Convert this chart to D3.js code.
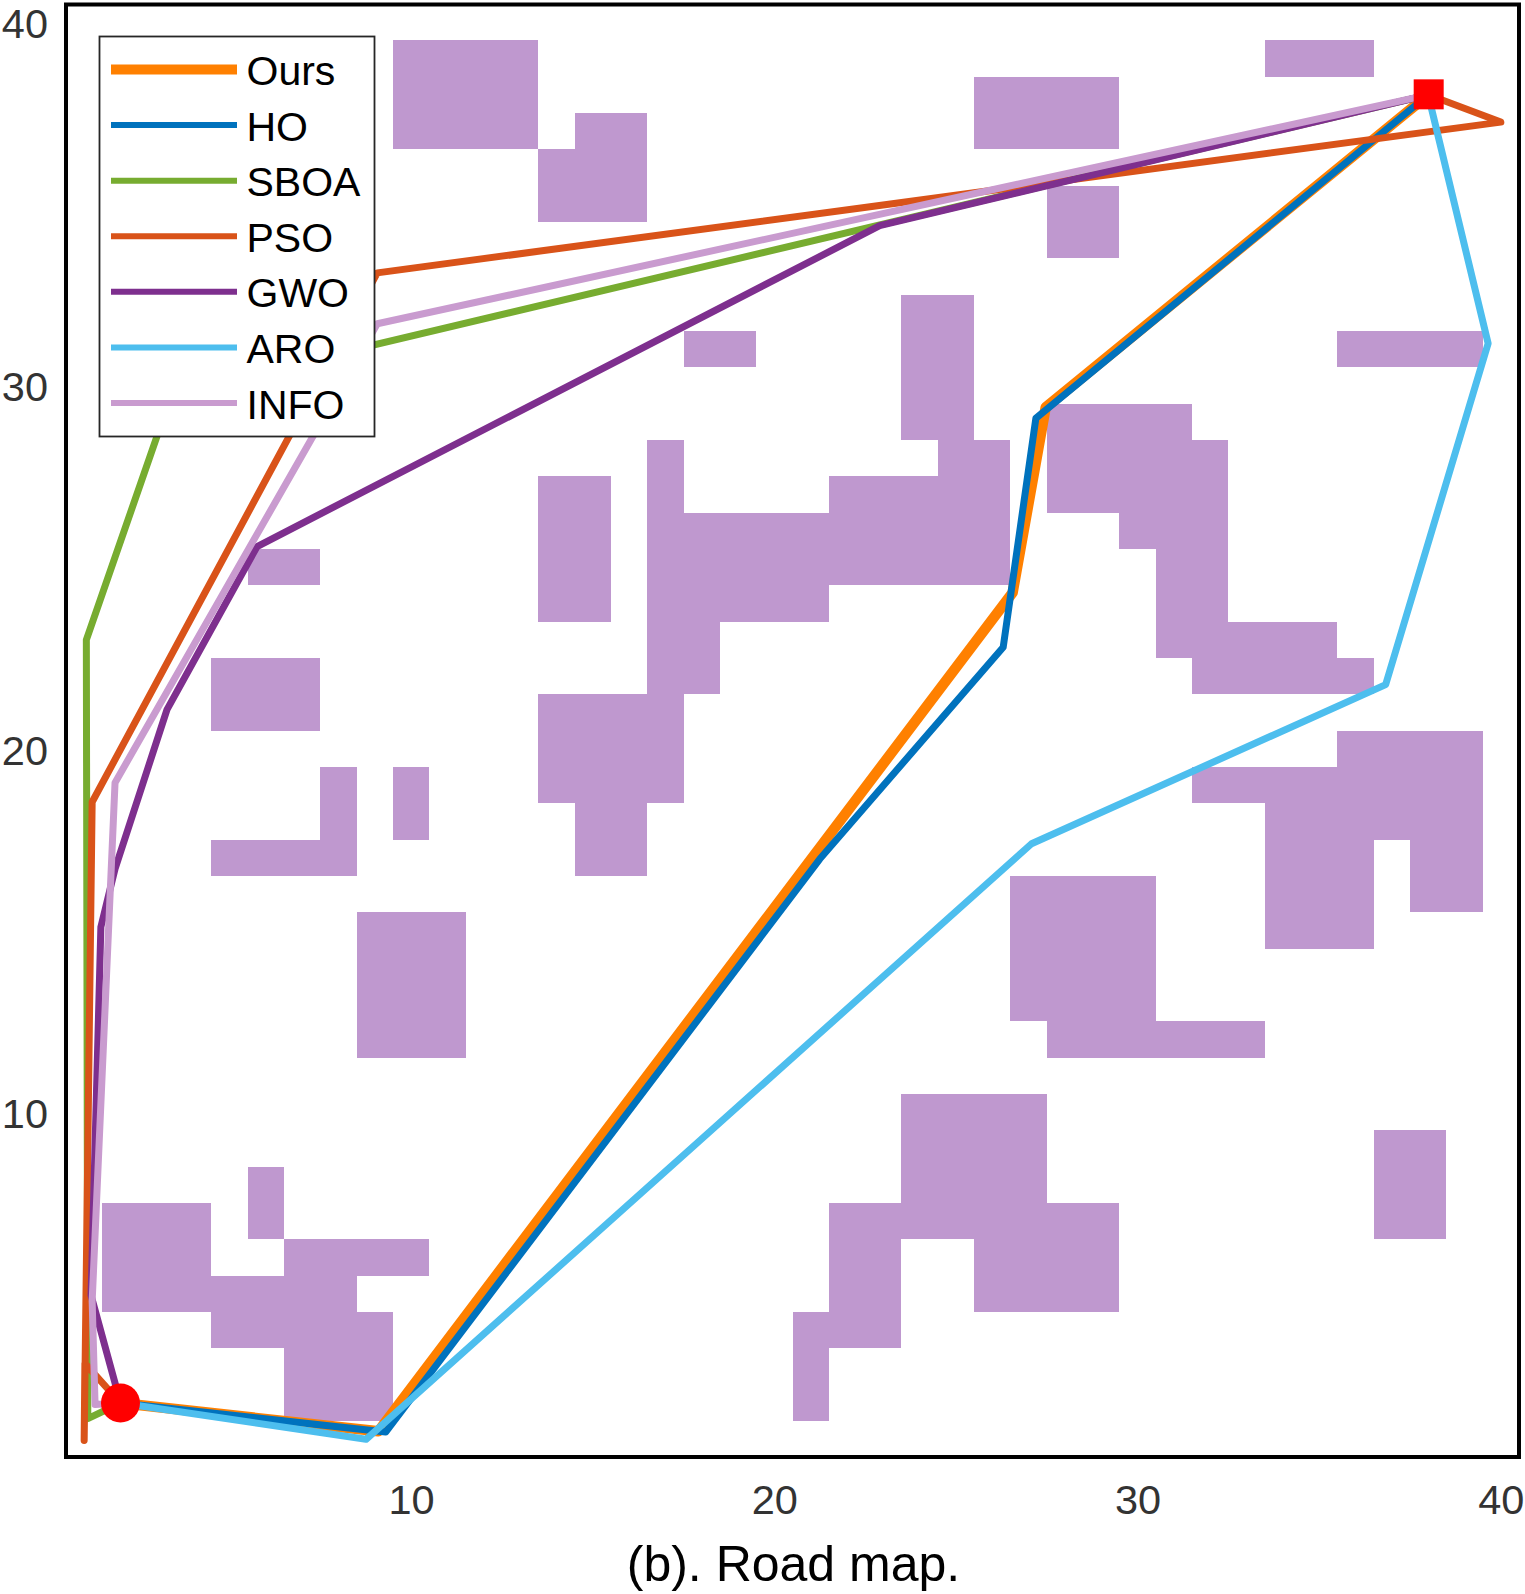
<!DOCTYPE html>
<html>
<head>
<meta charset="utf-8">
<script src="https://cdn.jsdelivr.net/npm/d3@7"></script>
<style>
  html, body { margin: 0; padding: 0; background: #fff; }
  text { font-family: "Liberation Sans", Arial, sans-serif; }
</style>
</head>
<body>
<div id="chart"></div>
<script>
// Obstacle cells as blocks: first column, last column, first row, last row
var obstacleBlocks = [
  [10,13,37,39], [14,16,35,36], [15,16,37,37], [34,36,39,39], [26,29,37,38],
  [28,29,34,35], [18,19,31,31], [24,25,29,32], [36,39,31,31], [25,26,28,28],
  [22,26,27,27], [17,17,27,28], [17,26,25,26], [17,21,24,24], [17,18,22,23],
  [14,17,19,21], [15,16,17,18], [14,15,24,27], [6,7,25,25], [5,7,21,22],
  [8,8,18,19], [5,8,17,17], [10,10,18,19], [9,11,12,15], [28,31,27,29],
  [32,32,26,28], [30,32,26,26], [31,32,24,25], [31,35,23,23], [32,36,22,22],
  [36,39,20,20], [32,39,19,19], [34,39,18,18], [34,36,15,17], [38,39,16,17],
  [27,30,13,16], [28,33,12,12], [24,27,8,10], [22,29,7,7], [22,23,5,6],
  [26,29,5,6], [21,23,4,4], [21,21,2,3], [37,38,7,9], [6,6,7,8],
  [2,4,5,7], [7,10,6,6], [5,8,5,5], [5,9,4,4], [7,9,2,3]
];

var startPoint = [2, 2];
var goalPoint = [38, 38];

// Paths
var oursPath = [[2,2],[9.1,1.22],[26.56,24.3],[27.47,29.4],[38,38]];
var hoPath = [[2,2],[9.3,1.2],[21.25,16.97],[26.3,22.8],[27.2,29.1],[38,38]];
var sboaPath = [[2,2],[1.1,1.57],[1.06,23.0],[3.42,29.8],[38,38]];
var psoPath = [[2,2],[1.02,3.09],[1.0,0.97],[1.22,18.54],[9.07,33.1],[40.0,37.25],[38,38]];
var gwoPath = [[2,2],[1.19,4.96],[1.46,15.1],[1.85,16.7],[3.28,21.08],[5.76,25.57],[22.9,34.4],[38,38]];
var aroPath = [[2,2],[8.76,1.0],[27.08,17.39],[36.83,21.77],[39.65,31.16],[38,38]];
var infoPath = [[2,2],[1.3,1.96],[1.22,4.8],[1.85,19.07],[9.07,31.7],[38,38]];

var seriesNames = ["Ours", "HO", "SBOA", "PSO", "GWO", "ARO", "INFO"];
var seriesPaths = [oursPath, hoPath, sboaPath, psoPath, gwoPath, aroPath, infoPath];
var seriesColors = ["#FF8000", "#0072BD", "#77AC30", "#D95319", "#7E2F8E", "#4DBEEE", "#C99BCF"];
var seriesWidths = [10.5, 7, 7, 7, 7, 7, 7];

var tickValues = [10, 20, 30, 40];

var svgWidth = 1525;
var svgHeight = 1594;

var svg = d3.select("#chart")
  .append("svg")
  .attr("width", svgWidth)
  .attr("height", svgHeight)
  .style("display", "block");

var xScale = d3.scaleLinear().domain([0.5, 40.5]).range([66, 1519]);
var yScale = d3.scaleLinear().domain([0.5, 40.5]).range([1457.5, 4]);

// Obstacles
svg.append("g")
  .selectAll("rect")
  .data(obstacleBlocks)
  .enter()
  .append("rect")
  .attr("x", d => xScale(d[0] - 0.5))
  .attr("width", d => xScale(d[1] + 0.5) - xScale(d[0] - 0.5))
  .attr("y", d => yScale(d[3] + 0.5))
  .attr("height", d => yScale(d[2] - 0.5) - yScale(d[3] + 0.5))
  .attr("fill", "#BF98CF")
  .attr("shape-rendering", "crispEdges");

// Paths
var line = d3.line().x(d => xScale(d[0])).y(d => yScale(d[1]));

svg.append("g")
  .selectAll("path")
  .data(seriesPaths)
  .enter()
  .append("path")
  .attr("d", line)
  .attr("fill", "none")
  .attr("stroke", (d, i) => seriesColors[i])
  .attr("stroke-width", (d, i) => seriesWidths[i])
  .attr("stroke-linejoin", "round")
  .attr("stroke-linecap", "round");

// Start and goal markers
svg.append("circle")
  .attr("cx", xScale(startPoint[0]))
  .attr("cy", yScale(startPoint[1]))
  .attr("r", 19.5)
  .attr("fill", "#FF0000");

svg.append("rect")
  .attr("x", xScale(goalPoint[0]) - 14.5)
  .attr("y", yScale(goalPoint[1]) - 15.5)
  .attr("width", 30)
  .attr("height", 30)
  .attr("fill", "#FF0000");

// Axes
var bottomAxis = d3.axisBottom(xScale).tickValues(tickValues).tickSize(0).tickPadding(0);
var leftAxis = d3.axisLeft(yScale).tickValues(tickValues).tickSize(0).tickPadding(0);

var xAxis = svg.append("g")
  .attr("transform", "translate(0, 1457)")
  .call(bottomAxis);
xAxis.select(".domain").remove();
xAxis.selectAll("text")
  .attr("y", 28)
  .attr("dy", "0.71em")
  .style("font-size", "41.5px")
  .style("font-family", '"Liberation Sans", Arial, sans-serif')
  .attr("fill", "#333333");

var yAxis = svg.append("g")
  .attr("transform", "translate(66, 0)")
  .call(leftAxis);
yAxis.select(".domain").remove();
yAxis.selectAll("text")
  .attr("x", -18)
  .attr("dy", "0.37em")
  .style("font-size", "41.5px")
  .style("font-family", '"Liberation Sans", Arial, sans-serif')
  .attr("fill", "#333333");

// Frame
svg.append("rect")
  .attr("x", 66)
  .attr("y", 4.5)
  .attr("width", 1453)
  .attr("height", 1452.5)
  .attr("fill", "none")
  .attr("stroke", "#000")
  .attr("stroke-width", 4);

// Legend
var legend = svg.append("g");
legend.append("rect")
  .attr("x", 99.5)
  .attr("y", 36.5)
  .attr("width", 275)
  .attr("height", 400)
  .attr("fill", "#fff")
  .attr("stroke", "#262626")
  .attr("stroke-width", 1.8);

var legendY = d3.scalePoint().domain(seriesNames).range([69.5, 403]);

var legendRow = legend.selectAll("g")
  .data(seriesNames)
  .enter()
  .append("g")
  .attr("transform", d => `translate(0, ${legendY(d)})`);

legendRow.append("line")
  .attr("x1", 111)
  .attr("x2", 237)
  .attr("stroke", (d, i) => seriesColors[i])
  .attr("stroke-width", (d, i) => i === 0 ? 10 : 6);

legendRow.append("text")
  .attr("x", 246.5)
  .attr("y", 15.5)
  .style("font-size", "41px")
  .attr("fill", "#000")
  .text(d => d);

// Caption
svg.append("text")
  .attr("x", 793.5)
  .attr("y", 1581)
  .attr("text-anchor", "middle")
  .style("font-size", "50px")
  .attr("fill", "#000")
  .text("(b). Road map.");
</script>
</body>
</html>
